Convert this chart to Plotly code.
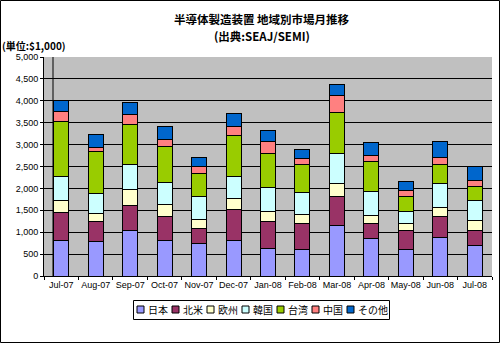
import plotly.graph_objects as go

months = ["Jul-07", "Aug-07", "Sep-07", "Oct-07", "Nov-07", "Dec-07", "Jan-08",
          "Feb-08", "Mar-08", "Apr-08", "May-08", "Jun-08", "Jul-08"]

japan = [811, 780, 1045, 811, 742, 811, 629, 606, 1152, 856, 606, 871, 697]
north_america = [628, 462, 561, 553, 349, 697, 613, 591, 659, 341, 439, 493, 348]
europe = [288, 175, 379, 265, 189, 265, 220, 205, 303, 189, 152, 189, 213]
korea = [553, 462, 553, 515, 538, 507, 553, 507, 674, 553, 265, 553, 469]
taiwan = [1258, 954, 932, 803, 531, 917, 788, 644, 939, 667, 356, 447, 311]
china = [220, 106, 212, 174, 143, 205, 265, 129, 394, 152, 137, 159, 151]
other = [250, 281, 273, 303, 220, 310, 243, 197, 250, 288, 204, 356, 319]

series = [
    ("日本", japan, "#9999ff"),
    ("北米", north_america, "#993366"),
    ("欧州", europe, "#ffffcc"),
    ("韓国", korea, "#ccffff"),
    ("台湾", taiwan, "#99cc00"),
    ("中国", china, "#ff8080"),
    ("その他", other, "#0066cc"),
]

fig = go.Figure()
for name, vals, color in series:
    fig.add_trace(go.Bar(
        x=months, y=vals, name=name,
        marker=dict(color=color, line=dict(color="#000000", width=1)),
    ))

W, H = 500, 343
L, R, T, B = 44, 8, 57, 67
pw, ph = W - L - R, H - T - B


def px(x):
    return (x - L) / pw


def py(y):
    return (H - B - y) / ph


jp_font = "Noto Sans CJK JP"

shapes = [
    # side wall edge of the 3D plot area
    dict(type="line", xref="paper", yref="paper",
         x0=px(53), x1=px(53), y0=0, y1=1,
         line=dict(color="#000000", width=1), layer="below"),
    # outer chart border
    dict(type="rect", xref="paper", yref="paper",
         x0=px(0.5), x1=px(499.5), y0=py(0.5), y1=py(342.5),
         line=dict(color="#000000", width=1)),
    # legend box
    dict(type="rect", xref="paper", yref="paper",
         x0=px(133.5), x1=px(389.5), y0=py(300.5), y1=py(319.5),
         fillcolor="#ffffff", line=dict(color="#000000", width=1)),
]


def label(text, x, y, size, anchor="center"):
    return dict(text=text, x=px(x), y=py(y), xref="paper", yref="paper",
                xanchor=anchor, yanchor="middle", showarrow=False,
                font=dict(family=jp_font, size=size, color="#000000"))


annotations = [
    label("<b>半導体製造装置 地域別市場月推移</b>", 262, 19.5, 11.5),
    label("<b>(出典:SEAJ/SEMI)</b>", 262, 35.5, 11.5),
    label("<b>(単位:$1,000)</b>", 0, 45, 10, "left"),
]

# compact horizontal legend: swatch + label per series
cursor = 137
ly = 309.5
for name, _, color in series:
    shapes.append(dict(type="rect", xref="paper", yref="paper",
                       x0=px(cursor), x1=px(cursor + 7),
                       y0=py(ly + 3.5), y1=py(ly - 3.5),
                       fillcolor=color, line=dict(color="#000000", width=1)))
    tx = cursor + 9
    annotations.append(label(name, tx, ly, 10, "left"))
    cursor = tx + len(name) * 10 + 6

fig.update_layout(
    width=W, height=H,
    margin=dict(l=L, r=R, t=T, b=B),
    paper_bgcolor="#ffffff",
    plot_bgcolor="#c0c0c0",
    barmode="stack",
    bargap=0.565,
    font=dict(family="Arial, Liberation Sans", size=9, color="#000000"),
    showlegend=False,
    xaxis=dict(
        type="category", showgrid=False, ticks="outside", ticklen=3,
        tickson="boundaries", tickcolor="#000000",
        showline=True, linecolor="#000000", linewidth=1,
        tickfont=dict(size=9), tickangle=0, automargin=False,
    ),
    yaxis=dict(
        range=[0, 5000], dtick=500, tickformat=",d",
        showgrid=True, gridcolor="#000000", gridwidth=1,
        ticks="outside", ticklen=3, tickcolor="#000000",
        showline=True, linecolor="#000000", linewidth=1,
        tickfont=dict(size=9), zeroline=False, automargin=False,
    ),
    annotations=annotations,
    shapes=shapes,
)

fig.write_html("out.html")
